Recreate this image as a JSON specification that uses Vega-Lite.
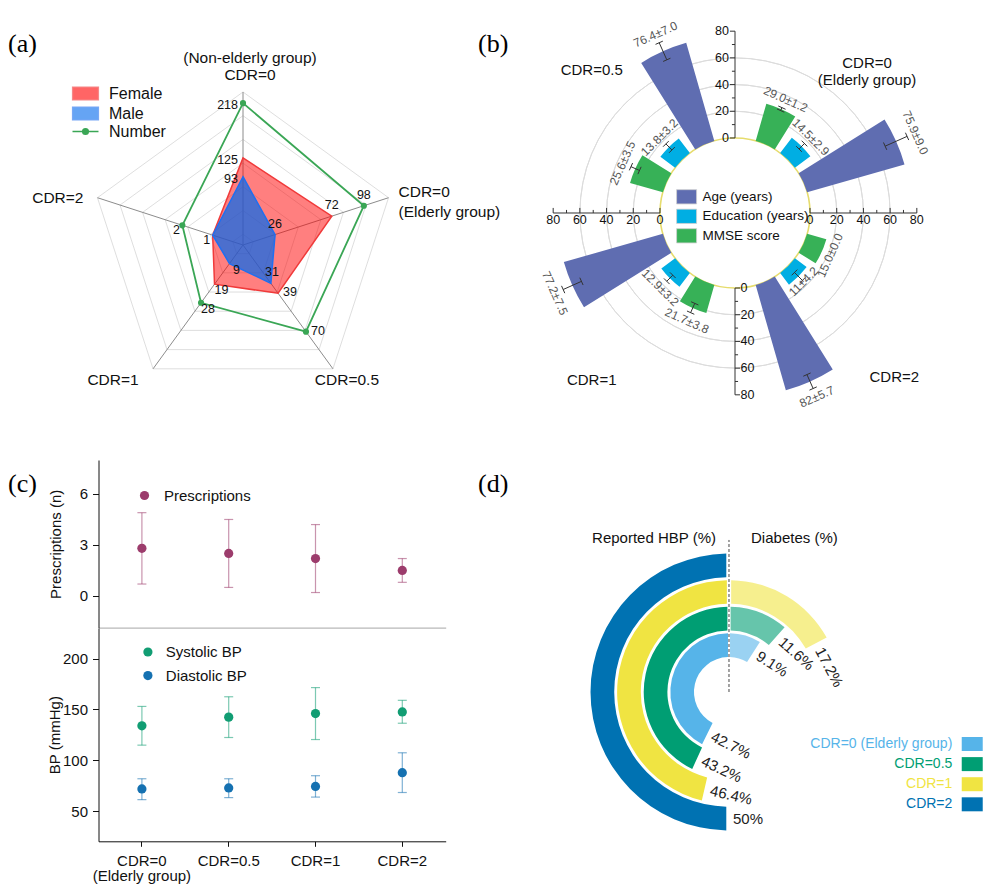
{
"$schema": "https://vega.github.io/schema/vega-lite/v6.json",
"background": "white",
"padding": 0,
"config": {
  "view": {"stroke": null},
  "font": "Liberation Sans",
  "title": {"font": "Liberation Serif", "fontSize": 26, "fontWeight": "normal", "anchor": "start", "frame": "group", "baseline": "middle", "color": "#000"},
  "axis": {"labelFont": "Liberation Sans", "titleFont": "Liberation Sans", "titleFontWeight": "normal", "labelColor": "#111", "titleColor": "#111", "grid": false},
  "legend": {"labelFont": "Liberation Sans", "labelColor": "#111", "labelLimit": 220},
  "text": {"font": "Liberation Sans"}
},
"datasets": {
  "radar": [
    {"series": "Female", "axis": "CDR=0 (Non-elderly group)", "value": 125},
    {"series": "Female", "axis": "CDR=0 (Elderly group)", "value": 72},
    {"series": "Female", "axis": "CDR=0.5", "value": 39},
    {"series": "Female", "axis": "CDR=1", "value": 19},
    {"series": "Female", "axis": "CDR=2", "value": 1},
    {"series": "Male", "axis": "CDR=0 (Non-elderly group)", "value": 93},
    {"series": "Male", "axis": "CDR=0 (Elderly group)", "value": 26},
    {"series": "Male", "axis": "CDR=0.5", "value": 31},
    {"series": "Male", "axis": "CDR=1", "value": 9},
    {"series": "Male", "axis": "CDR=2", "value": 1},
    {"series": "Number", "axis": "CDR=0 (Non-elderly group)", "value": 218},
    {"series": "Number", "axis": "CDR=0 (Elderly group)", "value": 98},
    {"series": "Number", "axis": "CDR=0.5", "value": 70},
    {"series": "Number", "axis": "CDR=1", "value": 28},
    {"series": "Number", "axis": "CDR=2", "value": 2}
  ],
  "radarAxes": [
    {"axis": "CDR=0 (Non-elderly group)", "idx": 0, "min": -23, "max": 237, "name": ["(Non-elderly group)", "CDR=0"]},
    {"axis": "CDR=0 (Elderly group)", "idx": 1, "min": 0, "max": 118, "name": ["CDR=0", "(Elderly group)"]},
    {"axis": "CDR=0.5", "idx": 2, "min": 0, "max": 100, "name": "CDR=0.5"},
    {"axis": "CDR=1", "idx": 3, "min": 0, "max": 60, "name": "CDR=1"},
    {"axis": "CDR=2", "idx": 4, "min": 0, "max": 4.8, "name": "CDR=2"}
  ],
  "radarGrid": [{"lvl": 0.07}, {"lvl": 0.225}, {"lvl": 0.38}, {"lvl": 0.535}, {"lvl": 0.69}, {"lvl": 0.845}, {"lvl": 1}],
  "bars": [
    {"group": "CDR=0 (Elderly group)", "measure": "Age (years)", "mean": 75.9, "sd": 9.0, "label": "75.9±9.0"},
    {"group": "CDR=0 (Elderly group)", "measure": "Education (years)", "mean": 14.5, "sd": 2.9, "label": "14.5±2.9"},
    {"group": "CDR=0 (Elderly group)", "measure": "MMSE score", "mean": 29.0, "sd": 1.2, "label": "29.0±1.2"},
    {"group": "CDR=0.5", "measure": "Age (years)", "mean": 76.4, "sd": 7.0, "label": "76.4±7.0"},
    {"group": "CDR=0.5", "measure": "Education (years)", "mean": 13.8, "sd": 3.2, "label": "13.8±3.2"},
    {"group": "CDR=0.5", "measure": "MMSE score", "mean": 25.6, "sd": 3.5, "label": "25.6±3.5"},
    {"group": "CDR=1", "measure": "Age (years)", "mean": 77.2, "sd": 7.5, "label": "77.2±7.5"},
    {"group": "CDR=1", "measure": "Education (years)", "mean": 12.9, "sd": 3.2, "label": "12.9±3.2"},
    {"group": "CDR=1", "measure": "MMSE score", "mean": 21.7, "sd": 3.8, "label": "21.7±3.8"},
    {"group": "CDR=2", "measure": "Age (years)", "mean": 82.0, "sd": 5.7, "label": "82±5.7"},
    {"group": "CDR=2", "measure": "Education (years)", "mean": 11.0, "sd": 4.2, "label": "11±4.2"},
    {"group": "CDR=2", "measure": "MMSE score", "mean": 15.0, "sd": 0.0, "label": "15.0±0.0"}
  ],
  "bticks": [{"v": 0}, {"v": 10}, {"v": 20}, {"v": 30}, {"v": 40}, {"v": 50}, {"v": 60}, {"v": 70}, {"v": 80}],
  "rx": [
    {"group": "CDR=0 (Elderly group)", "measure": "Prescriptions", "mean": 2.8, "lo": 0.7, "hi": 4.9},
    {"group": "CDR=0.5", "measure": "Prescriptions", "mean": 2.5, "lo": 0.5, "hi": 4.5},
    {"group": "CDR=1", "measure": "Prescriptions", "mean": 2.2, "lo": 0.2, "hi": 4.2},
    {"group": "CDR=2", "measure": "Prescriptions", "mean": 1.5, "lo": 0.8, "hi": 2.2}
  ],
  "bp": [
    {"group": "CDR=0 (Elderly group)", "measure": "Systolic BP", "mean": 134, "lo": 115, "hi": 153},
    {"group": "CDR=0.5", "measure": "Systolic BP", "mean": 142.5, "lo": 122.5, "hi": 162.5},
    {"group": "CDR=1", "measure": "Systolic BP", "mean": 146, "lo": 120.5, "hi": 171.5},
    {"group": "CDR=2", "measure": "Systolic BP", "mean": 147.6, "lo": 136.5, "hi": 159},
    {"group": "CDR=0 (Elderly group)", "measure": "Diastolic BP", "mean": 72, "lo": 61.5, "hi": 82},
    {"group": "CDR=0.5", "measure": "Diastolic BP", "mean": 73, "lo": 63.5, "hi": 82},
    {"group": "CDR=1", "measure": "Diastolic BP", "mean": 74.5, "lo": 64, "hi": 85},
    {"group": "CDR=2", "measure": "Diastolic BP", "mean": 88, "lo": 68.5, "hi": 107.5}
  ],
  "ring": [
    {"cdr": "CDR=0 (Elderly group)", "kind": "HBP", "pct": 42.7, "lab": "42.7%"},
    {"cdr": "CDR=0.5", "kind": "HBP", "pct": 43.2, "lab": "43.2%"},
    {"cdr": "CDR=1", "kind": "HBP", "pct": 46.4, "lab": "46.4%"},
    {"cdr": "CDR=2", "kind": "HBP", "pct": 50, "lab": "50%"},
    {"cdr": "CDR=0 (Elderly group)", "kind": "Diabetes", "pct": 9.1, "lab": "9.1%"},
    {"cdr": "CDR=0.5", "kind": "Diabetes", "pct": 11.6, "lab": "11.6%"},
    {"cdr": "CDR=1", "kind": "Diabetes", "pct": 17.2, "lab": "17.2%"}
  ]
},
"columns": 2,
"spacing": {"row": 0, "column": 44},
"bounds": "flush",
"resolve": {"scale": {"color": "independent", "fill": "independent", "stroke": "independent", "theta": "independent", "radius": "independent"}},
"concat": [
  {
    "width": 486, "height": 460,
    "title": {"text": "(a)", "offset": -57, "dx": 8},
    "layer": [
      {
        "data": {"name": "radarGrid"},
        "transform": [
          {"calculate": "[0,1,2,3,4]", "as": "k"},
          {"flatten": ["k"]},
          {"calculate": "datum.lvl*sin(datum.k*2*PI/5)", "as": "gx"},
          {"calculate": "datum.lvl*cos(datum.k*2*PI/5)", "as": "gy"}
        ],
        "mark": {"type": "line", "interpolate": "linear-closed", "color": "#d6d6d6", "strokeWidth": 0.8},
        "encoding": {
          "x": {"field": "gx", "type": "quantitative", "scale": {"domain": [-1.588, 1.588], "nice": false, "zero": false}, "axis": null},
          "y": {"field": "gy", "type": "quantitative", "scale": {"domain": [-1.405, 1.601], "nice": false, "zero": false}, "axis": null},
          "detail": {"field": "lvl", "type": "quantitative"},
          "order": {"field": "k", "type": "quantitative"}
        }
      },
      {
        "data": {"name": "radarAxes"},
        "transform": [
          {"calculate": "sin(datum.idx*2*PI/5)", "as": "vx"},
          {"calculate": "cos(datum.idx*2*PI/5)", "as": "vy"}
        ],
        "mark": {"type": "rule", "color": "#8c8c8c", "strokeWidth": 1},
        "encoding": {
          "x": {"field": "vx", "type": "quantitative"},
          "y": {"field": "vy", "type": "quantitative"},
          "x2": {"datum": 0},
          "y2": {"datum": 0}
        }
      },
      {
        "data": {"name": "radar"},
        "transform": [
          {"lookup": "axis", "from": {"data": {"name": "radarAxes"}, "key": "axis", "fields": ["idx", "min", "max"]}},
          {"calculate": "(datum.value - datum.min)/(datum.max - datum.min)", "as": "r"},
          {"calculate": "datum.r*sin(datum.idx*2*PI/5)", "as": "px"},
          {"calculate": "datum.r*cos(datum.idx*2*PI/5)", "as": "py"}
        ],
        "encoding": {
          "x": {"field": "px", "type": "quantitative"},
          "y": {"field": "py", "type": "quantitative"}
        },
        "layer": [
          {
            "transform": [{"filter": "datum.series != 'Number'"}],
            "mark": {"type": "line", "interpolate": "linear-closed", "strokeWidth": 1.5},
            "encoding": {
              "order": {"field": "idx", "type": "quantitative"},
              "fill": {"field": "series", "type": "nominal", "scale": {"domain": ["Female", "Male"], "range": ["#ff0000", "#0068ee"]},
                "legend": {"title": null, "orient": "none", "legendX": 76, "legendY": 84, "padding": 0, "symbolType": "M-1.5,-0.75H1.5V0.75H-1.5Z", "symbolSize": 300, "symbolStrokeWidth": 1.2, "symbolOpacity": 0.6, "labelFontSize": 16, "labelOffset": 14, "rowPadding": 1}},
              "color": {"field": "series", "type": "nominal", "scale": {"domain": ["Female", "Male"], "range": ["#f03a3a", "#1f6ff0"]},
                "legend": {"title": null, "orient": "none", "legendX": 76, "legendY": 84, "padding": 0, "symbolType": "M-1.5,-0.75H1.5V0.75H-1.5Z", "symbolSize": 300, "symbolStrokeWidth": 1.2, "symbolOpacity": 0.6, "labelFontSize": 16, "labelOffset": 14, "rowPadding": 1}},
              "fillOpacity": {"condition": {"test": "datum.series == 'Male'", "value": 0.7}, "value": 0.5}
            }
          },
          {
            "transform": [{"filter": "datum.series == 'Number'"}],
            "mark": {"type": "line", "interpolate": "linear-closed", "strokeWidth": 1.8},
            "encoding": {
              "order": {"field": "idx", "type": "quantitative"},
              "stroke": {"field": "series", "type": "nominal", "scale": {"domain": ["Number"], "range": ["#3aa655"]},
                "legend": {"title": null, "orient": "none", "legendX": 76, "legendY": 122, "padding": 0, "symbolType": "M-1.5,0H1.5M-0.32,0A0.32,0.32,0,1,1,0.32,0A0.32,0.32,0,1,1,-0.32,0Z", "symbolSize": 300, "symbolStrokeWidth": 1.6, "symbolFillColor": "#3aa655", "labelFontSize": 16, "labelOffset": 14}}
            }
          },
          {
            "transform": [{"filter": "datum.series == 'Number'"}],
            "mark": {"type": "point", "filled": true, "size": 38, "color": "#3aa655", "opacity": 1}
          },
          {
            "transform": [{"filter": "datum.idx == 0"}],
            "mark": {"type": "text", "align": "right", "baseline": "middle", "dx": -5, "dy": 2, "fontSize": 12.5, "color": "#111"},
            "encoding": {"text": {"field": "value", "type": "quantitative"}}
          },
          {
            "transform": [{"filter": "datum.idx == 1"}],
            "mark": {"type": "text", "align": "center", "baseline": "middle", "dx": 0, "dy": -11, "fontSize": 12.5, "color": "#111"},
            "encoding": {"text": {"field": "value", "type": "quantitative"}}
          },
          {
            "transform": [{"filter": "datum.idx == 2 && datum.series != 'Male'"}],
            "mark": {"type": "text", "align": "left", "baseline": "middle", "dx": 5, "dy": -1, "fontSize": 12.5, "color": "#111"},
            "encoding": {"text": {"field": "value", "type": "quantitative"}}
          },
          {
            "transform": [{"filter": "datum.idx == 2 && datum.series == 'Male'"}],
            "mark": {"type": "text", "align": "center", "baseline": "middle", "dx": 1, "dy": -11, "fontSize": 12.5, "color": "#111"},
            "encoding": {"text": {"field": "value", "type": "quantitative"}}
          },
          {
            "transform": [{"filter": "datum.idx == 3"}],
            "mark": {"type": "text", "align": "center", "baseline": "middle", "dx": 7, "dy": 6, "fontSize": 12.5, "color": "#111"},
            "encoding": {"text": {"field": "value", "type": "quantitative"}}
          },
          {
            "transform": [{"filter": "datum.idx == 4 && datum.series != 'Female'"}],
            "mark": {"type": "text", "align": "center", "baseline": "middle", "dx": -6, "dy": 5, "fontSize": 12.5, "color": "#111"},
            "encoding": {"text": {"field": "value", "type": "quantitative"}}
          }
        ]
      },
      {
        "data": {"name": "radarAxes"},
        "transform": [
          {"calculate": "sin(datum.idx*2*PI/5)", "as": "vx"},
          {"calculate": "cos(datum.idx*2*PI/5)", "as": "vy"}
        ],
        "encoding": {
          "x": {"field": "vx", "type": "quantitative"},
          "y": {"field": "vy", "type": "quantitative"},
          "text": {"field": "name", "type": "nominal"}
        },
        "layer": [
          {"transform": [{"filter": "datum.idx == 0"}], "mark": {"type": "text", "align": "center", "baseline": "bottom", "dx": 7, "dy": -26, "lineHeight": 17, "fontSize": 15.5, "color": "#111"}},
          {"transform": [{"filter": "datum.idx == 1"}], "mark": {"type": "text", "align": "left", "baseline": "top", "dx": 10, "dy": -13, "lineHeight": 20, "fontSize": 15.5, "color": "#111"}},
          {"transform": [{"filter": "datum.idx == 2"}], "mark": {"type": "text", "align": "center", "baseline": "middle", "dx": 14, "dy": 11, "fontSize": 15.5, "color": "#111"}},
          {"transform": [{"filter": "datum.idx == 3"}], "mark": {"type": "text", "align": "center", "baseline": "middle", "dx": -40, "dy": 11, "fontSize": 15.5, "color": "#111"}},
          {"transform": [{"filter": "datum.idx == 4"}], "mark": {"type": "text", "align": "right", "baseline": "middle", "dx": -14, "dy": 0, "fontSize": 15.5, "color": "#111"}}
        ]
      }
    ]
  },
  {
    "width": 410, "height": 460,
    "title": {"text": "(b)", "offset": -57, "dx": -52},
    "layer": [
      {
        "data": {"values": [{"v": 20}, {"v": 40}, {"v": 60}]},
        "transform": [{"calculate": "0", "as": "t0"}],
        "mark": {"type": "arc", "filled": false, "stroke": "#dcdcdc", "strokeWidth": 1},
        "encoding": {
          "x": {"datum": 0, "type": "quantitative", "scale": {"domain": [-153.56, 153.56], "nice": false, "zero": false}, "axis": null},
          "y": {"datum": 0, "type": "quantitative", "scale": {"domain": [-185.02, 159.55], "nice": false, "zero": false}, "axis": null},
          "theta": {"field": "t0", "type": "quantitative", "stack": null, "scale": {"domain": [0, 360], "range": [0, 6.283185307179586]}},
          "theta2": {"datum": 360},
          "radius": {"field": "v", "type": "quantitative", "scale": {"type": "linear", "domain": [-56.2, 80], "range": [0, 181.8], "zero": false, "nice": false}},
          "radius2": {"field": "v"}
        }
      },
      {
        "data": {"values": [{}]},
        "transform": [{"calculate": "0", "as": "z"}],
        "mark": {"type": "arc", "fill": "white", "stroke": "#e6dc6c", "strokeWidth": 1.6},
        "encoding": {
          "x": {"datum": 0, "type": "quantitative"},
          "y": {"datum": 0, "type": "quantitative"},
          "theta": {"field": "z", "type": "quantitative", "stack": null},
          "theta2": {"datum": 360},
          "radius": {"field": "z", "type": "quantitative"},
          "radius2": {"datum": -56.2}
        }
      },
      {
        "data": {"name": "bticks"},
        "transform": [
          {"calculate": "['up','right','down','left']", "as": "dir"},
          {"flatten": ["dir"]},
          {"calculate": "datum.v + 56.2", "as": "u"},
          {"calculate": "datum.v % 20 == 0 ? 3.8 : 2.3", "as": "s"},
          {"calculate": "datum.dir == 'right' ? datum.u : datum.dir == 'left' ? -datum.u : 0", "as": "tx1"},
          {"calculate": "datum.dir == 'up' ? datum.u : datum.dir == 'down' ? -datum.u : 0", "as": "ty1"},
          {"calculate": "datum.dir == 'up' ? -datum.s : datum.dir == 'down' ? datum.s : datum.tx1", "as": "tx2"},
          {"calculate": "datum.dir == 'up' || datum.dir == 'down' ? datum.ty1 : datum.s", "as": "ty2"},
          {"calculate": "datum.dir == 'right' ? 136.2 : datum.dir == 'left' ? -136.2 : 0", "as": "ex"},
          {"calculate": "datum.dir == 'up' ? 136.2 : datum.dir == 'down' ? -136.2 : 0", "as": "ey"},
          {"calculate": "datum.dir == 'up' ? -4.6 : datum.dir == 'down' ? 4.2 : datum.tx1", "as": "lx"},
          {"calculate": "datum.dir == 'up' || datum.dir == 'down' ? datum.ty1 : -5.6", "as": "ly"}
        ],
        "layer": [
          {
            "mark": {"type": "rule", "color": "#333", "strokeWidth": 1},
            "encoding": {
              "x": {"field": "tx1", "type": "quantitative"},
              "y": {"field": "ty1", "type": "quantitative"},
              "x2": {"field": "tx2"},
              "y2": {"field": "ty2"}
            }
          },
          {
            "transform": [{"filter": "datum.v == 0"}],
            "mark": {"type": "rule", "color": "#333", "strokeWidth": 1},
            "encoding": {
              "x": {"field": "tx1", "type": "quantitative"},
              "y": {"field": "ty1", "type": "quantitative"},
              "x2": {"field": "ex"},
              "y2": {"field": "ey"}
            }
          },
          {
            "transform": [{"filter": "datum.v % 20 == 0 && datum.dir == 'up'"}],
            "mark": {"type": "text", "align": "right", "baseline": "middle", "fontSize": 12.5, "color": "#111"},
            "encoding": {"x": {"field": "lx", "type": "quantitative"}, "y": {"field": "ly", "type": "quantitative"}, "text": {"field": "v", "type": "quantitative"}}
          },
          {
            "transform": [{"filter": "datum.v % 20 == 0 && datum.dir == 'down'"}],
            "mark": {"type": "text", "align": "left", "baseline": "middle", "fontSize": 12.5, "color": "#111"},
            "encoding": {"x": {"field": "lx", "type": "quantitative"}, "y": {"field": "ly", "type": "quantitative"}, "text": {"field": "v", "type": "quantitative"}}
          },
          {
            "transform": [{"filter": "datum.v % 20 == 0 && (datum.dir == 'left' || datum.dir == 'right')"}],
            "mark": {"type": "text", "align": "center", "baseline": "middle", "fontSize": 12.5, "color": "#111"},
            "encoding": {"x": {"field": "lx", "type": "quantitative"}, "y": {"field": "ly", "type": "quantitative"}, "text": {"field": "v", "type": "quantitative"}}
          }
        ]
      },
      {
        "data": {"name": "bars"},
        "transform": [
          {"calculate": "indexof(['CDR=0 (Elderly group)','CDR=2','CDR=1','CDR=0.5'], datum.group)", "as": "q"},
          {"calculate": "indexof(['MMSE score','Education (years)','Age (years)'], datum.measure)", "as": "m"},
          {"calculate": "datum.q*90 + 24 + 21*datum.m", "as": "tc"},
          {"calculate": "datum.tc - 8", "as": "t1"},
          {"calculate": "datum.tc + 8", "as": "t2"},
          {"calculate": "datum.tc*PI/180", "as": "a"},
          {"calculate": "datum.mean - datum.sd + 56.2", "as": "lo"},
          {"calculate": "datum.mean + datum.sd + 56.2", "as": "hi"},
          {"calculate": "datum.lo*sin(datum.a)", "as": "x1"},
          {"calculate": "datum.lo*cos(datum.a)", "as": "y1"},
          {"calculate": "datum.hi*sin(datum.a)", "as": "x2"},
          {"calculate": "datum.hi*cos(datum.a)", "as": "y2"},
          {"calculate": "3*cos(datum.a)", "as": "cx"},
          {"calculate": "3*sin(datum.a)", "as": "cy"},
          {"calculate": "datum.mean + datum.sd + (datum.group == 'CDR=2' && datum.measure == 'Education (years)' ? 1.2 : 6.8)", "as": "lr"},
          {"calculate": "(datum.tc > 90 && datum.tc < 270) ? datum.tc - 180 : datum.tc", "as": "la"}
        ],
        "layer": [
          {
            "mark": {"type": "arc"},
            "encoding": {
              "x": {"datum": 0, "type": "quantitative"},
              "y": {"datum": 0, "type": "quantitative"},
              "theta": {"field": "t1", "type": "quantitative", "stack": null},
              "theta2": {"field": "t2"},
              "radius": {"field": "mean", "type": "quantitative"},
              "radius2": {"datum": 0},
              "fill": {"field": "measure", "type": "nominal", "scale": {"domain": ["Age (years)", "Education (years)", "MMSE score"], "range": ["#5f6db1", "#00aee3", "#37b157"]},
                "legend": {"title": null, "orient": "none", "legendX": 148.6, "legendY": 188.8, "padding": 0, "symbolType": "M-1.4,-1H1.4V1H-1.4Z", "symbolSize": 204, "symbolStrokeColor": "#cfcfcf", "symbolStrokeWidth": 0.8, "labelFontSize": 13.5, "labelOffset": 8, "rowPadding": 1.5}}
            }
          },
          {
            "mark": {"type": "rule", "color": "#333", "strokeWidth": 1},
            "encoding": {
              "x": {"field": "x1", "type": "quantitative"},
              "y": {"field": "y1", "type": "quantitative"},
              "x2": {"field": "x2"},
              "y2": {"field": "y2"}
            }
          },
          {
            "transform": [
              {"filter": "datum.sd > 0"},
              {"calculate": "datum.x1 + datum.cx", "as": "p1"},
              {"calculate": "datum.y1 - datum.cy", "as": "q1"},
              {"calculate": "datum.x1 - datum.cx", "as": "p2"},
              {"calculate": "datum.y1 + datum.cy", "as": "q2"}
            ],
            "mark": {"type": "rule", "color": "#333", "strokeWidth": 1},
            "encoding": {
              "x": {"field": "p1", "type": "quantitative"},
              "y": {"field": "q1", "type": "quantitative"},
              "x2": {"field": "p2"},
              "y2": {"field": "q2"}
            }
          },
          {
            "transform": [
              {"filter": "datum.sd > 0"},
              {"calculate": "datum.x2 + datum.cx", "as": "p1"},
              {"calculate": "datum.y2 - datum.cy", "as": "q1"},
              {"calculate": "datum.x2 - datum.cx", "as": "p2"},
              {"calculate": "datum.y2 + datum.cy", "as": "q2"}
            ],
            "mark": {"type": "rule", "color": "#333", "strokeWidth": 1},
            "encoding": {
              "x": {"field": "p1", "type": "quantitative"},
              "y": {"field": "q1", "type": "quantitative"},
              "x2": {"field": "p2"},
              "y2": {"field": "q2"}
            }
          },
          {
            "mark": {"type": "text", "align": "center", "baseline": "middle", "fontSize": 12, "color": "#555"},
            "encoding": {
              "x": {"datum": 0, "type": "quantitative"},
              "y": {"datum": 0, "type": "quantitative"},
              "theta": {"field": "tc", "type": "quantitative", "stack": null},
              "radius": {"field": "lr", "type": "quantitative"},
              "angle": {"field": "la", "type": "quantitative", "scale": null},
              "text": {"field": "label", "type": "nominal"}
            }
          }
        ]
      },
      {
        "data": {"values": [{}]},
        "mark": {"type": "text", "text": "CDR=0.5", "fontSize": 15, "color": "#111", "align": "center", "baseline": "middle"},
        "encoding": {"x": {"datum": -107.3, "type": "quantitative"}, "y": {"datum": 107.1, "type": "quantitative"}}
      },
      {
        "data": {"values": [{}]},
        "mark": {"type": "text", "text": ["CDR=0", "(Elderly group)"], "lineHeight": 17.4, "fontSize": 15, "color": "#111", "align": "center", "baseline": "top"},
        "encoding": {"x": {"datum": 98.9, "type": "quantitative"}, "y": {"datum": 117.8, "type": "quantitative"}}
      },
      {
        "data": {"values": [{}]},
        "mark": {"type": "text", "text": "CDR=1", "fontSize": 15, "color": "#111", "align": "center", "baseline": "middle"},
        "encoding": {"x": {"datum": -107.3, "type": "quantitative"}, "y": {"datum": -125.1, "type": "quantitative"}}
      },
      {
        "data": {"values": [{}]},
        "mark": {"type": "text", "text": "CDR=2", "fontSize": 15, "color": "#111", "align": "center", "baseline": "middle"},
        "encoding": {"x": {"datum": 119.3, "type": "quantitative"}, "y": {"datum": -122.6, "type": "quantitative"}}
      }
    ]
  },
  {
    "width": 445.7, "height": 167.7,
    "title": {"text": "(c)", "offset": -37, "dx": 8},
    "data": {"name": "rx"},
    "encoding": {
      "x": {"field": "group", "type": "nominal", "sort": null,
        "scale": {"type": "band", "domain": ["CDR=0 (Elderly group)", "CDR=0.5", "CDR=1", "CDR=2"], "range": [98.5, 445.7], "paddingInner": 0, "paddingOuter": 0},
        "axis": {"title": null, "labels": false, "ticks": false, "domainColor": "#b8b8b8", "domainWidth": 1.3}}
    },
    "layer": [
      {
        "mark": {"type": "rule", "strokeWidth": 1.2, "opacity": 0.55, "color": "#9c3c6c"},
        "encoding": {
          "y": {"field": "lo", "type": "quantitative", "scale": {"domain": [-1.87, 8.0], "nice": false, "zero": false},
            "axis": {"title": "Prescriptions (n)", "values": [0, 3, 6], "offset": -98.5, "tickSize": 6, "labelPadding": 5, "titlePadding": 16, "labelFlush": false, "domainColor": "#111", "tickColor": "#111", "labelFontSize": 15, "titleFontSize": 15}},
          "y2": {"field": "hi"}
        }
      },
      {
        "transform": [{"fold": ["lo", "hi"], "as": ["end", "val"]}],
        "mark": {"type": "tick", "size": 9, "thickness": 1.2, "opacity": 0.55, "color": "#9c3c6c"},
        "encoding": {
          "y": {"field": "val", "type": "quantitative"}
        }
      },
      {
        "mark": {"type": "point", "filled": true, "size": 85, "opacity": 1},
        "encoding": {
          "y": {"field": "mean", "type": "quantitative"},
          "color": {"field": "measure", "type": "nominal", "scale": {"domain": ["Prescriptions"], "range": ["#9c3c6c"]},
            "legend": {"title": null, "orient": "none", "legendX": 137, "legendY": 28, "padding": 0, "symbolType": "circle", "symbolSize": 85, "symbolOpacity": 1, "labelFontSize": 15, "labelOffset": 12}}
        }
      }
    ]
  },
  {
    "width": 410, "height": 167.7,
    "title": {"text": "(d)", "offset": -37, "dx": -52},
    "layer": [
      {
        "data": {"values": [{}]},
        "transform": [{"calculate": "0", "as": "z"}],
        "mark": {"type": "rule", "strokeDash": [3, 2], "color": "#333", "strokeWidth": 0.9},
        "encoding": {
          "x": {"field": "z", "type": "quantitative", "scale": {"domain": [-1.309, 1.388], "nice": false, "zero": false}, "axis": null},
          "y": {"field": "z", "type": "quantitative", "scale": {"domain": [0.423, 1.526], "nice": false, "zero": false}, "axis": null},
          "y2": {"datum": 1}
        }
      },
      {
        "data": {"values": [{}]},
        "mark": {"type": "text", "text": "Reported HBP (%)", "align": "right", "baseline": "middle", "fontSize": 15, "color": "#111"},
        "encoding": {"x": {"datum": -0.0855, "type": "quantitative"}, "y": {"datum": 1.013, "type": "quantitative"}}
      },
      {
        "data": {"values": [{}]},
        "mark": {"type": "text", "text": "Diabetes (%)", "align": "left", "baseline": "middle", "fontSize": 15, "color": "#111"},
        "encoding": {"x": {"datum": 0.145, "type": "quantitative"}, "y": {"datum": 1.013, "type": "quantitative"}}
      },
      {
        "data": {"name": "ring"},
        "transform": [
          {"calculate": "indexof(['CDR=0 (Elderly group)','CDR=0.5','CDR=1','CDR=2'], datum.cdr)", "as": "ring"},
          {"calculate": "datum.ring + 0.89", "as": "rout"},
          {"calculate": "datum.ring + 0.445", "as": "rmid"},
          {"calculate": "datum.kind == 'HBP' ? 100 - datum.pct : 0", "as": "t1"},
          {"calculate": "datum.kind == 'HBP' ? 100 : datum.pct", "as": "t2"},
          {"calculate": "datum.kind == 'HBP' ? 100 - datum.pct : datum.pct", "as": "tend"},
          {"calculate": "datum.kind == 'HBP' ? (100 - datum.pct)*3.6 - 180 : datum.pct*3.6", "as": "la"},
          {"calculate": "-0.342 - 0.1322*datum.ring", "as": "legY"}
        ],
        "layer": [
          {
            "mark": {"type": "arc", "padAngle": 0.03},
            "encoding": {
              "x": {"datum": 0, "type": "quantitative"},
              "y": {"datum": 0, "type": "quantitative"},
              "theta": {"field": "t1", "type": "quantitative", "stack": null, "scale": {"domain": [0, 100], "range": [0, 6.283185307179586]}},
              "theta2": {"field": "t2"},
              "radius": {"field": "ring", "type": "quantitative", "scale": {"type": "linear", "domain": [0, 4], "range": [35, 141.4], "zero": false, "nice": false}},
              "radius2": {"field": "rout"},
              "fill": {"field": "cdr", "type": "nominal", "scale": {"domain": ["CDR=0 (Elderly group)", "CDR=0.5", "CDR=1", "CDR=2"], "range": ["#56b4e9", "#009e73", "#f0e442", "#0072b2"]}, "legend": null},
              "fillOpacity": {"condition": {"test": "datum.kind == 'Diabetes'", "value": 0.6}, "value": 1}
            }
          },
          {
            "mark": {"type": "text", "align": "left", "baseline": "middle", "dx": 4, "fontSize": 15, "color": "#222"},
            "encoding": {
              "x": {"datum": 0, "type": "quantitative"},
              "y": {"datum": 0, "type": "quantitative"},
              "theta": {"field": "tend", "type": "quantitative", "stack": null},
              "radius": {"field": "rmid", "type": "quantitative"},
              "angle": {"field": "la", "type": "quantitative", "scale": null},
              "text": {"field": "lab", "type": "nominal"}
            }
          },
          {
            "transform": [{"filter": "datum.kind == 'HBP'"}],
            "mark": {"type": "text", "align": "right", "baseline": "middle", "fontSize": 14},
            "encoding": {
              "x": {"datum": 1.469, "type": "quantitative"},
              "y": {"field": "legY", "type": "quantitative"},
              "text": {"field": "cdr", "type": "nominal"},
              "fill": {"field": "cdr", "type": "nominal", "legend": null}
            }
          },
          {
            "transform": [{"filter": "datum.kind == 'HBP'"}],
            "mark": {"type": "point", "shape": "M-1.5,-1H1.5V1H-1.5Z", "size": 196, "filled": true, "opacity": 1, "strokeWidth": 0},
            "encoding": {
              "x": {"datum": 1.6, "type": "quantitative"},
              "y": {"field": "legY", "type": "quantitative"},
              "fill": {"field": "cdr", "type": "nominal", "legend": null}
            }
          }
        ]
      }
    ]
  },
  {
    "width": 445.7, "height": 213.3,
    "data": {"name": "bp"},
    "encoding": {
      "x": {"field": "group", "type": "nominal", "sort": null,
        "scale": {"type": "band", "domain": ["CDR=0 (Elderly group)", "CDR=0.5", "CDR=1", "CDR=2"], "range": [98.5, 445.7], "paddingInner": 0, "paddingOuter": 0},
        "axis": {"title": null, "labelAngle": 0, "labelFontSize": 15, "labelPadding": 7, "tickSize": 5, "labelBaseline": "top", "labelLineHeight": 15.5,
          "labelExpr": "datum.value == 'CDR=0 (Elderly group)' ? ['CDR=0', '(Elderly group)'] : datum.value", "domainColor": "#111", "tickColor": "#111"}}
    },
    "layer": [
      {
        "mark": {"type": "rule", "strokeWidth": 1.2, "opacity": 0.55},
        "encoding": {
          "y": {"field": "lo", "type": "quantitative", "scale": {"domain": [20.6, 230], "nice": false, "zero": false},
            "axis": {"title": "BP (mmHg)", "values": [50, 100, 150, 200], "offset": -98.5, "tickSize": 6, "labelPadding": 5, "titlePadding": 0, "labelFlush": false, "domainColor": "#111", "tickColor": "#111", "labelFontSize": 15, "titleFontSize": 15}},
          "y2": {"field": "hi"},
          "stroke": {"condition": {"test": "datum.measure == 'Systolic BP'", "value": "#119d73"}, "value": "#1571b1"}
        }
      },
      {
        "transform": [{"fold": ["lo", "hi"], "as": ["end", "val"]}],
        "mark": {"type": "tick", "size": 9, "thickness": 1.2, "opacity": 0.55},
        "encoding": {
          "y": {"field": "val", "type": "quantitative"},
          "fill": {"condition": {"test": "datum.measure == 'Systolic BP'", "value": "#119d73"}, "value": "#1571b1"}
        }
      },
      {
        "mark": {"type": "point", "filled": true, "size": 85, "opacity": 1},
        "encoding": {
          "y": {"field": "mean", "type": "quantitative"},
          "color": {"field": "measure", "type": "nominal", "scale": {"domain": ["Systolic BP", "Diastolic BP"], "range": ["#119d73", "#1571b1"]},
            "legend": {"title": null, "orient": "none", "legendX": 140.4, "legendY": 16.5, "padding": 0, "symbolType": "circle", "symbolSize": 85, "symbolOpacity": 1, "labelFontSize": 15, "labelOffset": 10.4, "rowPadding": 7.6}}
        }
      }
    ]
  }
]
}
